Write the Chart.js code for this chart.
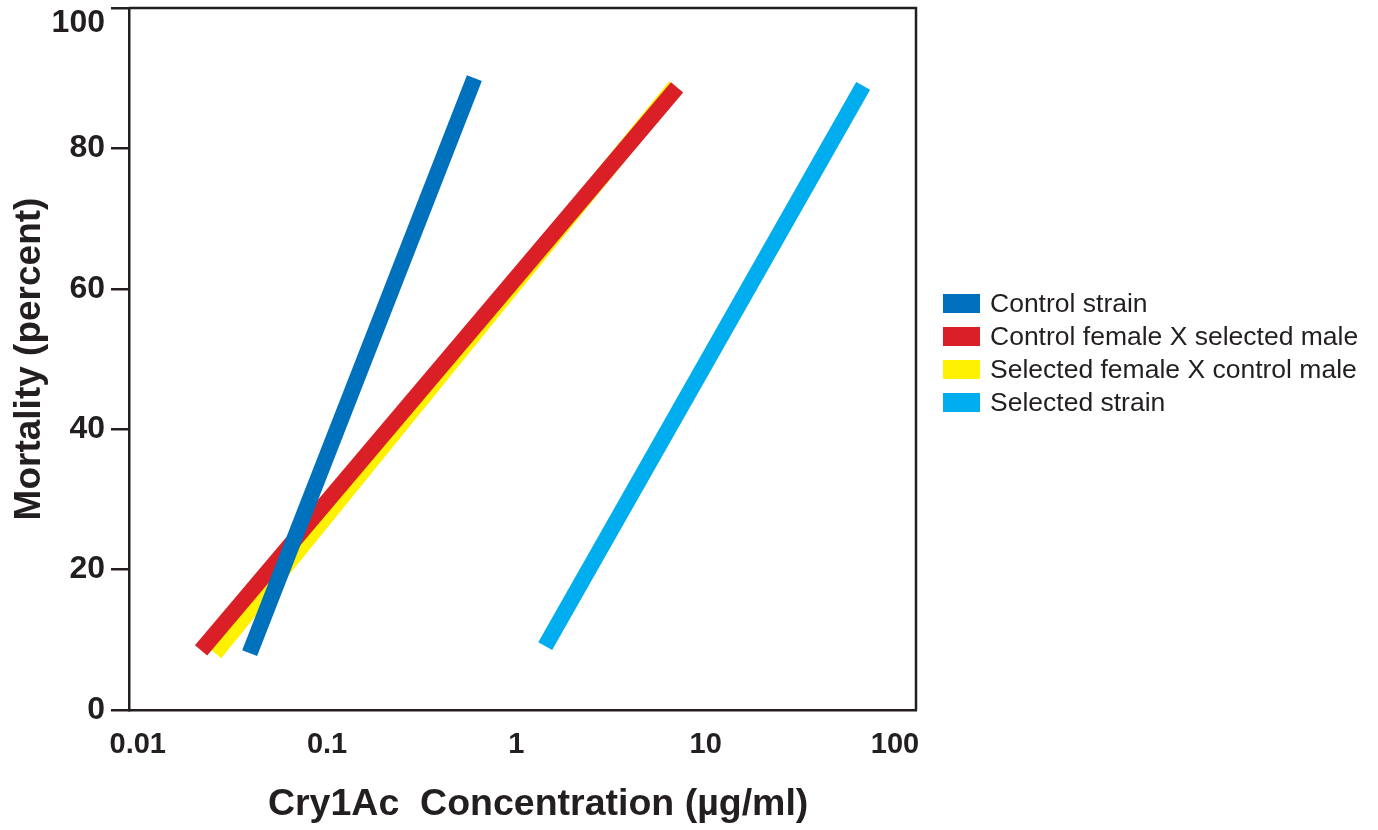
<!DOCTYPE html>
<html>
<head>
<meta charset="utf-8">
<script src="https://cdn.jsdelivr.net/npm/chart.js@4.4.1/dist/chart.umd.min.js"></script>
<style>
  html, body { margin: 0; padding: 0; background: #ffffff; }
  #wrap { width: 1378px; height: 830px; }
</style>
</head>
<body>
<div id="wrap"><canvas id="c" width="1378" height="830"></canvas></div>
<script>
// ---- data ----
const seriesNames = [
  'Control strain',
  'Control female X selected male',
  'Selected female X control male',
  'Selected strain'
];
const seriesColors = ['#0071bc', '#db1f26', '#fff200', '#00aeef'];

const controlStrainX = [0.039, 0.60];
const controlStrainY = [8.1, 90.0];
const controlFemaleSelMaleX = [0.0216, 7.06];
const controlFemaleSelMaleY = [8.5, 88.7];
const selFemaleControlMaleX = [0.0256, 6.9];
const selFemaleControlMaleY = [8.1, 88.8];
const selectedStrainX = [1.42, 67.9];
const selectedStrainY = [9.1, 88.9];

const xTickValues = [0.01, 0.1, 1, 10, 100];
const xTickLabels = ['0.01', '0.1', '1', '10', '100'];
const yTickValues = [0, 20, 40, 60, 80, 100];

const xTitle = 'Cry1Ac  Concentration (\u00b5g/ml)';
const yTitle = 'Mortality (percent)';

const seriesX = [controlStrainX, controlFemaleSelMaleX, selFemaleControlMaleX, selectedStrainX];
const seriesY = [controlStrainY, controlFemaleSelMaleY, selFemaleControlMaleY, selectedStrainY];

const ink = '#231f20';
const fam = '"Liberation Sans", Arial, Helvetica, sans-serif';

const datasets = seriesNames.map((name, i) => ({
  label: name,
  data: seriesX[i].map((x, j) => ({ x: x, y: seriesY[i][j] })),
  borderColor: seriesColors[i],
  backgroundColor: seriesColors[i],
  borderWidth: 16,
  borderCapStyle: 'butt',
  pointRadius: 0,
  pointHoverRadius: 0,
  fill: false,
  tension: 0
}));

const whiteBg = {
  id: 'whiteBg',
  beforeDraw(chart) {
    const ctx = chart.ctx;
    ctx.save();
    ctx.fillStyle = '#ffffff';
    ctx.fillRect(0, 0, chart.width, chart.height);
    ctx.restore();
  }
};

const frame = {
  id: 'frame',
  afterDraw(chart) {
    const a = chart.chartArea;
    const ctx = chart.ctx;
    ctx.save();
    ctx.strokeStyle = ink;
    ctx.lineWidth = 2.5;
    ctx.beginPath();
    ctx.moveTo(a.left, a.top);
    ctx.lineTo(a.right, a.top);
    ctx.lineTo(a.right, a.bottom);
    ctx.stroke();
    ctx.restore();
  }
};

const sideLegend = {
  id: 'sideLegend',
  afterDraw(chart) {
    const ctx = chart.ctx;
    const ds = chart.data.datasets;
    ctx.save();
    ctx.font = '26.5px ' + fam;
    ctx.textBaseline = 'middle';
    ctx.textAlign = 'left';
    ds.forEach((d, i) => {
      const cy = 303.5 + i * 33;
      ctx.fillStyle = d.borderColor;
      ctx.fillRect(943, cy - 9.5, 37, 19);
      ctx.fillStyle = ink;
      ctx.fillText(d.label, 990, cy + 1);
    });
    ctx.restore();
  }
};

new Chart(document.getElementById('c'), {
  type: 'line',
  data: { datasets: datasets },
  options: {
    responsive: false,
    devicePixelRatio: 1,
    animation: false,
    events: [],
    layout: { padding: { left: 0, right: 462, top: 8, bottom: 0 } },
    plugins: {
      legend: { display: false },
      tooltip: { enabled: false },
      title: { display: false }
    },
    scales: {
      x: {
        type: 'logarithmic',
        position: 'bottom',
        min: 0.00899,
        max: 129.1,
        afterBuildTicks(axis) { axis.ticks = xTickValues.map(v => ({ value: v })); },
        afterFit(s) { s.height = 120; s.paddingLeft = 0; s.paddingRight = 0; },
        grid: { display: false, drawTicks: true, tickLength: 12 },
        border: { display: true, color: ink, width: 2.5 },
        ticks: {
          padding: 6,
          autoSkip: false,
          maxRotation: 0,
          color: ink,
          font: { family: fam, size: 29, weight: 'bold' },
          callback(value) {
            const k = xTickValues.indexOf(value);
            return k >= 0 ? xTickLabels[k] : '';
          }
        },
        title: {
          display: true,
          text: '   ' + xTitle,
          color: ink,
          font: { family: fam, size: 37.5, weight: 'bold' },
          padding: { top: 0, bottom: 2.5 }
        }
      },
      y: {
        type: 'linear',
        position: 'left',
        min: 0,
        max: 100,
        afterBuildTicks(axis) { axis.ticks = yTickValues.map(v => ({ value: v })); },
        afterFit(s) { s.width = 129; s.paddingTop = 0; s.paddingBottom = 0; },
        grid: { display: true, drawOnChartArea: false, drawTicks: true, tickLength: 18, color: ink, lineWidth: 2.5 },
        border: { display: true, color: ink, width: 2.5 },
        ticks: {
          padding: 6,
          color: ink,
          font: { family: fam, size: 32, weight: 'bold', lineHeight: 0.95 },
          callback(value) {
            // the top label sits just below the frame corner in the reference
            return value === 100 ? ['', String(value)] : String(value);
          }
        },
        title: {
          display: true,
          text: yTitle,
          color: ink,
          font: { family: fam, size: 37, weight: 'bold' },
          padding: { top: 7.8, bottom: 0 }
        }
      }
    }
  },
  plugins: [whiteBg, frame, sideLegend]
});
</script>
</body>
</html>
